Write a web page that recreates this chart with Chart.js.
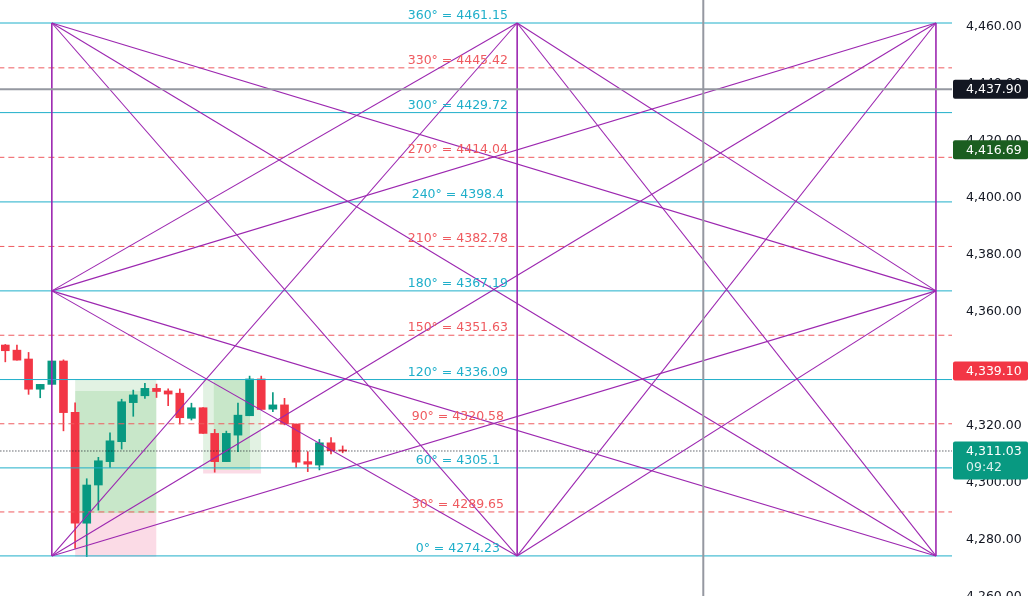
<!DOCTYPE html>
<html>
<head>
<meta charset="utf-8">
<script src="https://cdn.jsdelivr.net/npm/chart.js@4.4.1/dist/chart.umd.min.js"></script>
<style>
  html, body { margin: 0; padding: 0; background: #fff; overflow: hidden; }
  canvas { display: block; }
</style>
</head>
<body>
<canvas id="chart" width="1032" height="596"></canvas>
<script>
// ─── Data ────────────────────────────────────────────────────────────────────
const degrees = [0, 30, 60, 90, 120, 150, 180, 210, 240, 270, 300, 330, 360];
const levels  = [4274.23, 4289.65, 4305.1, 4320.58, 4336.09, 4351.63, 4367.19,
                 4382.78, 4398.4, 4414.04, 4429.72, 4445.42, 4461.15];
const yTicks  = [4260, 4280, 4300, 4320, 4340, 4360, 4380, 4400, 4420, 4440, 4460];

// one candle per bar index 0..29
const opens  = [4348.2, 4346.4, 4343.3, 4332.7, 4334.4, 4342.6, 4324.6, 4285.7, 4299.1, 4307.3,
                4314.3, 4328.0, 4330.4, 4333.0, 4332.1, 4331.3, 4322.5, 4326.2, 4317.2, 4307.3,
                4316.6, 4323.4, 4336.3, 4325.7, 4327.2, 4320.5, 4307.3, 4306.1, 4313.9, 4311.4];
const highs  = [4348.4, 4348.2, 4345.6, 4334.4, 4342.6, 4343.0, 4327.9, 4301.3, 4308.8, 4317.4,
                4329.2, 4332.4, 4334.8, 4334.5, 4332.8, 4332.8, 4327.8, 4326.3, 4318.6, 4318.0,
                4327.8, 4337.3, 4337.3, 4331.5, 4329.5, 4320.5, 4310.8, 4315.1, 4315.7, 4312.8];
const lows   = [4342.3, 4342.9, 4330.9, 4329.7, 4334.4, 4318.1, 4276.9, 4274.0, 4290.3, 4305.3,
                4311.7, 4323.2, 4329.5, 4329.8, 4326.9, 4320.5, 4321.9, 4317.2, 4303.6, 4307.3,
                4310.8, 4323.4, 4325.6, 4324.8, 4320.2, 4305.3, 4303.8, 4304.4, 4310.0, 4310.4];
const closes = [4346.2, 4342.9, 4332.7, 4334.4, 4342.6, 4324.5, 4285.7, 4299.1, 4307.6, 4314.6,
                4328.3, 4330.7, 4333.0, 4331.9, 4331.0, 4322.7, 4326.2, 4317.2, 4307.3, 4317.2,
                4323.6, 4336.3, 4325.6, 4327.2, 4320.5, 4307.1, 4306.4, 4313.9, 4311.1, 4311.03];

// gann box: bar indices of left / middle / right edges, segments as [bar, degree] pairs
const gannBars = [4, 44, 80];
const gannSegments = [
  [[4, 360], [80, 0]],   [[4, 0], [80, 360]],
  [[4, 360], [44, 0]],   [[4, 0], [44, 360]],
  [[44, 360], [80, 0]],  [[44, 0], [80, 360]],
  [[4, 360], [80, 180]], [[4, 0], [80, 180]],
  [[80, 360], [4, 180]], [[80, 0], [4, 180]],
  [[4, 180], [44, 360]], [[4, 180], [44, 0]],
  [[80, 180], [44, 360]], [[80, 180], [44, 0]],
];

// shaded zones: [barFrom, barTo, top, bottom]
const zonesLight = [[6, 13, 4336.3, 4289.3], [17, 22, 4336.0, 4304.4]];
const zonesDark  = [[6, 13, 4332.1, 4289.3], [17.9, 21.05, 4336.0, 4304.4]];
const zonesStop  = [[6, 13, 4289.3, 4273.9], [17, 22, 4304.4, 4303.1]];

const crossBar   = 60;
const crossPrice = 4437.90;
const lastPrice  = 4311.03;
const lastTime   = '09:42';
const axisMarks  = [4437.90, 4416.69, 4339.10, 4311.03];

// ─── Style ───────────────────────────────────────────────────────────────────
const PALETTE = {
  up:     '#089981',
  down:   '#f23645',
  cyan:   '#1fafca',
  red:    '#ef5a5f',
  gann:   '#9c27b0',
  cross:  '#9598a1',
  text:   '#131722',
  light:  'rgba(76,175,80,0.16)',
  dark:   'rgba(76,175,80,0.17)',
  stop:   'rgba(233,30,99,0.16)',
  marks:  ['#131722', '#1b5e20', '#f23645', '#089981'],
};
const FONT = '"DejaVu Sans", sans-serif';
const X_MIN = -0.456, X_MAX = 81.38;
const LABEL_BAR = 38.9;

const priceAt = deg => levels[degrees.indexOf(deg)];
const fmt = v => v.toLocaleString('en-US', { minimumFractionDigits: 2, maximumFractionDigits: 2 });
const candleColors = opens.map((o, i) => closes[i] >= o ? PALETTE.up : PALETTE.down);

function segment(points, color, width, order, dash) {
  return {
    type: 'line', data: points, borderColor: color, borderWidth: width,
    borderDash: dash || [], pointRadius: 0, fill: false, tension: 0, order,
  };
}

function zone([x0, x1, top, bottom], color) {
  return {
    type: 'line', data: [{ x: x0, y: top }, { x: x1, y: top }],
    borderWidth: 0, pointRadius: 0, fill: { value: bottom },
    backgroundColor: color, order: 30,
  };
}

// ─── Datasets ────────────────────────────────────────────────────────────────
const datasets = [];

zonesLight.forEach(z => datasets.push(zone(z, PALETTE.light)));
zonesDark.forEach(z => datasets.push(zone(z, PALETTE.dark)));
zonesStop.forEach(z => datasets.push(zone(z, PALETTE.stop)));

datasets.push({
  type: 'bar', data: lows.map((l, i) => ({ x: i, y: [l, highs[i]] })),
  backgroundColor: candleColors, barThickness: 1, grouped: false, order: 21,
});
datasets.push({
  type: 'bar', data: opens.map((o, i) => ({ x: i, y: [o, closes[i]] })),
  backgroundColor: candleColors, barThickness: 8, minBarLength: 1, grouped: false, order: 20,
});

degrees.forEach((d, i) => {
  const solid = d % 60 === 0;
  datasets.push(segment(
    [{ x: X_MIN - 1, y: levels[i] }, { x: X_MAX + 1, y: levels[i] }],
    solid ? PALETTE.cyan : PALETTE.red, 1, 10, solid ? [] : [6, 4]));
});

datasets.push(segment([{ x: X_MIN - 1, y: lastPrice }, { x: X_MAX + 1, y: lastPrice }],
  PALETTE.text, 1, 9, [1, 2]));

gannSegments.forEach(([a, b]) => {
  datasets.push(segment([{ x: a[0], y: priceAt(a[1]) }, { x: b[0], y: priceAt(b[1]) }],
    PALETTE.gann, 1.1, 5));
});
gannBars.forEach(b => {
  datasets.push(segment([{ x: b, y: priceAt(0) }, { x: b, y: priceAt(360) }], PALETTE.gann, 1.6, 5));
});

datasets.push(segment([{ x: X_MIN - 1, y: crossPrice }, { x: X_MAX + 1, y: crossPrice }], PALETTE.cross, 2, 1));
datasets.push(segment([{ x: crossBar, y: 4500 }, { x: crossBar, y: 4200 }], PALETTE.cross, 2, 1));

// ─── Plugins ─────────────────────────────────────────────────────────────────
const levelLabels = {
  id: 'levelLabels',
  afterDatasetsDraw(chart) {
    const { ctx, scales: { x, y } } = chart;
    ctx.save();
    ctx.font = `12.5px ${FONT}`;
    ctx.textAlign = 'center';
    ctx.textBaseline = 'alphabetic';
    degrees.forEach((d, i) => {
      ctx.fillStyle = d % 60 === 0 ? PALETTE.cyan : PALETTE.red;
      ctx.fillText(`${d}° = ${levels[i]}`, x.getPixelForValue(LABEL_BAR), y.getPixelForValue(levels[i]) - 4);
    });
    ctx.restore();
  }
};

const priceMarks = {
  id: 'priceMarks',
  afterDraw(chart) {
    const { ctx, chartArea, scales: { y } } = chart;
    ctx.save();
    ctx.font = `12.5px ${FONT}`;
    ctx.textAlign = 'left';
    ctx.textBaseline = 'middle';
    axisMarks.forEach((v, i) => {
      const py = y.getPixelForValue(v);
      const last = v === lastPrice;
      const h = last ? 38 : 19;
      ctx.fillStyle = PALETTE.marks[i];
      ctx.beginPath();
      ctx.roundRect(chartArea.right + 1, py - 9.5, 75, h, 2);
      ctx.fill();
      ctx.fillStyle = '#fff';
      ctx.fillText(fmt(v), chartArea.right + 14, py + 0.5);
      if (last) {
        ctx.fillStyle = 'rgba(255,255,255,0.85)';
        ctx.fillText(lastTime, chartArea.right + 14, py + 17);
      }
    });
    ctx.restore();
  }
};

// ─── Chart ───────────────────────────────────────────────────────────────────
new Chart(document.getElementById('chart'), {
  type: 'bar',
  data: { datasets },
  options: {
    responsive: false,
    animation: false,
    events: [],
    layout: { padding: 0 },
    plugins: { legend: { display: false }, tooltip: { enabled: false } },
    scales: {
      x: { type: 'linear', min: X_MIN, max: X_MAX, display: false, offset: false },
      y: {
        position: 'right', min: 4260.17, max: 4469.22,
        grid: { display: false, drawTicks: false }, border: { display: false },
        afterBuildTicks: s => { s.ticks = yTicks.map(value => ({ value })); },
        afterFit: s => { s.width = 80; s.paddingTop = 0; s.paddingBottom = 0; },
        ticks: {
          autoSkip: false, padding: 14, color: PALETTE.text,
          font: { family: 'DejaVu Sans', size: 12.5 },
          callback: v => fmt(v),
        },
      },
    },
  },
  plugins: [levelLabels, priceMarks],
});
</script>
</body>
</html>
